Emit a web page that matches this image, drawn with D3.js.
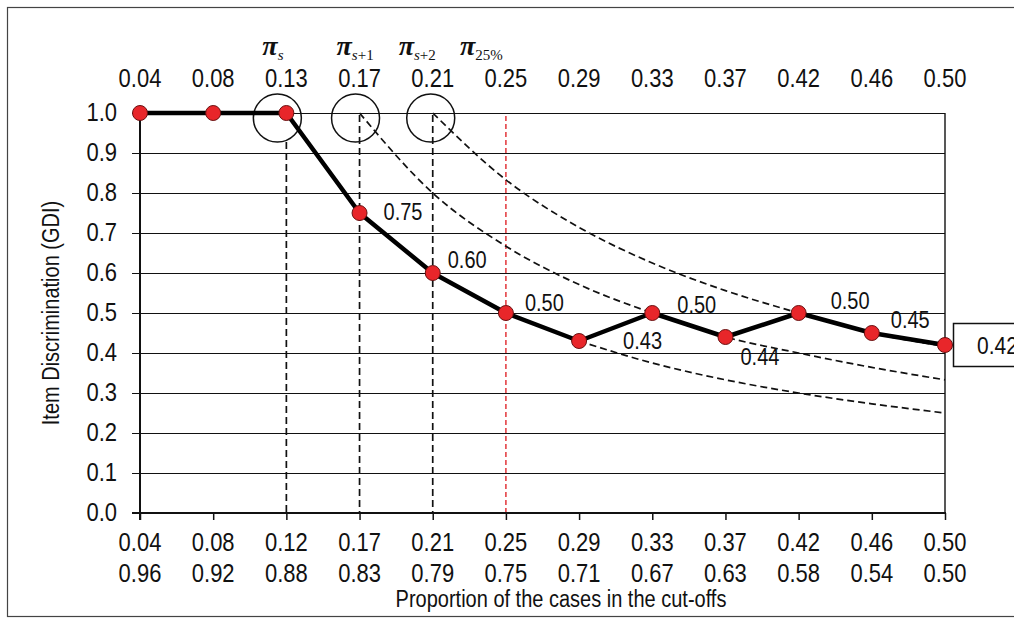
<!DOCTYPE html>
<html>
<head>
<meta charset="utf-8">
<script src="https://cdn.jsdelivr.net/npm/d3@7"></script>
<style>
  body { margin: 0; background: #fff; }
  text { font-family: "Liberation Sans", Arial, sans-serif; fill: #111; }
  text.pi { font-family: "Liberation Serif", "Times New Roman", serif; }
</style>
</head>
<body>
<div id="chart"></div>
<script>
// proportion of cases in lower / upper cut-off, and the top row shown above the plot
var lowerProp = ["0.04", "0.08", "0.12", "0.17", "0.21", "0.25", "0.29", "0.33", "0.37", "0.42", "0.46", "0.50"];
var upperProp = ["0.96", "0.92", "0.88", "0.83", "0.79", "0.75", "0.71", "0.67", "0.63", "0.58", "0.54", "0.50"];
var topProp = ["0.04", "0.08", "0.13", "0.17", "0.21", "0.25", "0.29", "0.33", "0.37", "0.42", "0.46", "0.50"];

// item discrimination (GDI) at each cut-off
var gdi = [1.00, 1.00, 1.00, 0.75, 0.60, 0.50, 0.43, 0.50, 0.44, 0.50, 0.45, 0.42];
var gdiLabels = ["", "", "", "0.75", "0.60", "0.50", "0.43", "0.50", "0.44", "0.50", "0.45", "0.42"];

// dashed reference curves, starting at pi_s, pi_s+1, pi_s+2
var curveS = { start: 6, values: [0.43, 0.375, 0.333, 0.30, 0.273, 0.25] };
var curveS1 = { start: 3, values: [1.00, 0.80, 0.667, 0.571, 0.50, 0.44, 0.40, 0.364, 0.333] };
var curveS2 = { start: 4, values: [1.00, 0.833, 0.714, 0.625, 0.556, 0.50, 0.45, 0.417] };

var yTicks = [0, 0.1, 0.2, 0.3, 0.4, 0.5, 0.6, 0.7, 0.8, 0.9, 1.0];

var svgWidth = 1014;
var svgHeight = 621;
var SY = 1.15; // text in the source is a bit stretched vertically

var svg = d3.select("#chart").append("svg")
  .attr("width", svgWidth)
  .attr("height", svgHeight);

// outer frame
svg.append("rect")
  .attr("x", 7.5).attr("y", 7.5)
  .attr("width", 1030).attr("height", 609)
  .attr("fill", "none").attr("stroke", "#444").attr("stroke-width", 1.2);

var x = d3.scalePoint().domain(lowerProp).range([140, 945]);
var y = d3.scaleLinear().domain([0, 1]).range([513, 113]);

function txt(g, px, py, s, size, anchor) {
  return g.append("text")
    .attr("transform", `translate(${px},${py}) scale(1,${SY})`)
    .attr("text-anchor", anchor || "middle")
    .style("font-size", size + "px")
    .text(s);
}

// gridlines + left tick marks
svg.append("g").selectAll("line")
  .data(yTicks)
  .enter().append("line")
  .attr("x1", 132).attr("x2", 945)
  .attr("y1", d => y(d)).attr("y2", d => y(d))
  .attr("stroke", "#111").attr("stroke-width", 1)
  .attr("shape-rendering", "crispEdges");

// right border
svg.append("line")
  .attr("x1", 945).attr("x2", 945).attr("y1", y(1)).attr("y2", y(0))
  .attr("stroke", "#111").attr("stroke-width", 1.4);

// y tick labels
yTicks.forEach(function(d) {
  txt(svg, 117, y(d) + 8, d3.format(".1f")(d), 22, "end");
});

// vertical dashed guides
[[2, 142], [3, 115], [4, 115]].forEach(function(v) {
  svg.append("line")
    .attr("x1", x(lowerProp[v[0]])).attr("x2", x(lowerProp[v[0]]))
    .attr("y1", v[1]).attr("y2", y(0))
    .attr("stroke", "#111").attr("stroke-width", 1.7)
    .attr("stroke-dasharray", "7,4");
});
svg.append("line")
  .attr("x1", x("0.25")).attr("x2", x("0.25"))
  .attr("y1", 116).attr("y2", y(0))
  .attr("stroke", "#e0262b").attr("stroke-width", 1.4)
  .attr("stroke-dasharray", "5,3");

// dashed curves
var curveLine = d3.line()
  .x(d => x(d.cat))
  .y(d => y(d.v))
  .curve(d3.curveMonotoneX);

[curveS, curveS1, curveS2].forEach(function(c) {
  var pts = c.values.map((v, i) => ({ cat: lowerProp[c.start + i], v: v }));
  svg.append("path")
    .datum(pts)
    .attr("d", curveLine)
    .attr("fill", "none")
    .attr("stroke", "#111")
    .attr("stroke-width", 1.7)
    .attr("stroke-dasharray", "7,4");
});

// axes lines
svg.append("line")
  .attr("x1", 140).attr("x2", 140).attr("y1", y(1)).attr("y2", y(0) + 7)
  .attr("stroke", "#111").attr("stroke-width", 2);
var bottomAxis = svg.append("g")
  .attr("transform", `translate(0, ${y(0)})`)
  .call(d3.axisBottom(x).tickSize(7).tickFormat(""));
bottomAxis.select(".domain").remove();
bottomAxis.selectAll("line").attr("stroke", "#111").attr("stroke-width", 1.5);
svg.append("line")
  .attr("x1", 132).attr("x2", 946).attr("y1", y(0)).attr("y2", y(0))
  .attr("stroke", "#111").attr("stroke-width", 2.2);

// bottom labels, two rows
lowerProp.forEach(function(d, i) {
  txt(svg, x(d), 551, d, 22);
  txt(svg, x(d), 582, upperProp[i], 22);
});
txt(svg, 561, 607, "Proportion of the cases in the cut-offs", 20);

// top labels
topProp.forEach(function(d, i) {
  txt(svg, x(lowerProp[i]), 87, d, 22);
});

// y axis title
svg.append("text")
  .attr("transform", `translate(59,313) rotate(-90) scale(1,${SY})`)
  .attr("text-anchor", "middle")
  .style("font-size", "20px")
  .text("Item Discrimination (GDI)");

// annotation circles
[[2, -9], [3, -4], [4, -2]].forEach(function(c) {
  svg.append("circle")
    .attr("cx", x(lowerProp[c[0]]) + c[1])
    .attr("cy", 118)
    .attr("r", 24)
    .attr("fill", "none")
    .attr("stroke", "#111")
    .attr("stroke-width", 1.5);
});

// pi labels
var piLabels = [
  { idx: 2, dx: -24, sub: [["s", true]] },
  { idx: 3, dx: -23, sub: [["s", true], ["+1", false]] },
  { idx: 4, dx: -34, sub: [["s", true], ["+2", false]] },
  { idx: 5, dx: -46, sub: [["25%", false]] }
];
piLabels.forEach(function(p) {
  var t = svg.append("text")
    .attr("class", "pi")
    .attr("x", x(lowerProp[p.idx]) + p.dx)
    .attr("y", 55)
    .style("font-size", "28px");
  t.append("tspan").style("font-style", "italic").style("font-weight", "bold").text("\u03c0");
  p.sub.forEach(function(s, j) {
    var ts = t.append("tspan")
      .style("font-size", "15px")
      .style("font-style", s[1] ? "italic" : "normal")
      .text(s[0]);
    if (j === 0) ts.attr("dy", 5);
  });
});

// main line
var gdiLine = d3.line()
  .x((d, i) => x(lowerProp[i]))
  .y(d => y(d));

svg.append("path")
  .datum(gdi)
  .attr("d", gdiLine)
  .attr("fill", "none")
  .attr("stroke", "#000")
  .attr("stroke-width", 4.5)
  .attr("stroke-linejoin", "round");

svg.selectAll("circle.pt")
  .data(gdi)
  .enter().append("circle")
  .attr("class", "pt")
  .attr("cx", (d, i) => x(lowerProp[i]))
  .attr("cy", d => y(d))
  .attr("r", 7.5)
  .attr("fill", "#e8262a")
  .attr("stroke", "#6a1010")
  .attr("stroke-width", 1);

// value labels
var labelOffsets = [null, null, null, [24, 7], [15, -5], [19, -2], [44, 8], [25, 0], [15, 28], [32, -4], [19, -5], null];
gdi.forEach(function(d, i) {
  var o = labelOffsets[i];
  if (!o) return;
  txt(svg, x(lowerProp[i]) + o[0], y(d) + o[1], gdiLabels[i], 20, "start");
});

// boxed label for the last point
svg.append("rect")
  .attr("x", 953.5).attr("y", 323.5)
  .attr("width", 80).attr("height", 43)
  .attr("fill", "#fff").attr("stroke", "#111").attr("stroke-width", 1.5);
txt(svg, 977, y(gdi[11]) + 9, gdiLabels[11], 21, "start");
</script>
</body>
</html>
